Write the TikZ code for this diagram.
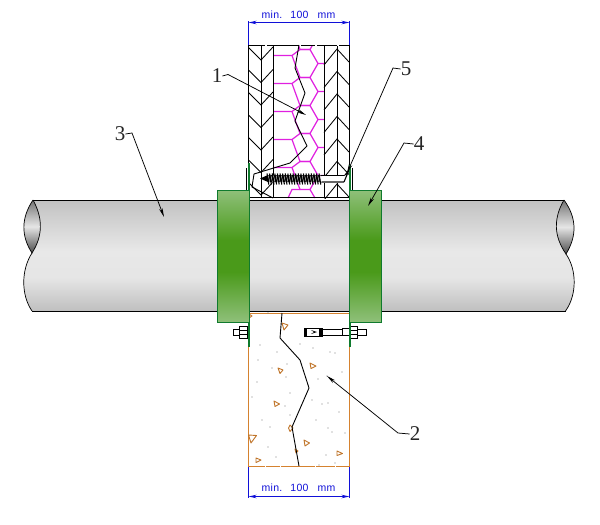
\documentclass[tikz,border=0pt]{standalone}
\usepackage{fontspec}
\setmainfont{Liberation Serif}
\newfontfamily\dimfont[LetterSpace=3]{Liberation Sans}
\usetikzlibrary{arrows.meta}
\definecolor{mag}{HTML}{E020E0}
\definecolor{conc}{HTML}{D5822F}
\definecolor{dimblue}{HTML}{1010D8}
\definecolor{gedge}{HTML}{0F7A2E}
\definecolor{clampL}{HTML}{8FC07A}
\definecolor{clampD}{HTML}{4A9A1A}
\pgfdeclareverticalshading{pipeshade}{100bp}{color(0bp)=(black!25);color(25bp)=(black!25);color(40bp)=(black!10);color(52bp)=(black!9);color(75bp)=(black!24);color(100bp)=(black!24)}
\pgfdeclareverticalshading{clampshade}{100bp}{color(0bp)=(clampL);color(25bp)=(clampL);color(44bp)=(clampD);color(56bp)=(clampD);color(75bp)=(clampL);color(100bp)=(clampL)}
\pgfdeclareverticalshading{lensshade}{100bp}{color(0bp)=(black!70);color(25bp)=(black!70);color(50bp)=(black!10);color(75bp)=(black!55);color(100bp)=(black!55)}
\tikzset{
  pipeline/.style={draw=black,line width=1pt},
  layerline/.style={draw=black,line width=0.85pt},
  hexline/.style={draw=mag,line width=1.2pt},
  crack/.style={draw=black,line width=0.9pt,line join=round},
  concline/.style={draw=conc,line width=1pt},
  gravel/.style={draw=conc!90!black,line width=0.9pt,line join=round},
  speck/.style={fill=black!50,draw=none},
  flange/.style={draw=gedge,line width=2pt},
  clampbox/.style={draw=gedge,line width=1pt,shading=clampshade},
  hardware/.style={draw=black,line width=1pt,fill=white},
  dimline/.style={draw=dimblue,line width=0.9pt},
  dimarrow/.style={dimline,{Stealth[length=8pt,width=3.5pt]}-{Stealth[length=8pt,width=3.5pt]}},
  dimtext/.style={text=dimblue,font=\dimfont\fontsize{10.5}{10.5}\selectfont,inner sep=0pt},
  callout/.style={font=\fontsize{21}{21}\selectfont,inner sep=0pt,text=black!85},
  leader/.style={draw=black,line width=0.75pt,-{Stealth[length=9pt,width=3.5pt]}}
}
\begin{document}
\begin{tikzpicture}[x=1pt,y=-1pt]
\useasboundingbox (0,0) rectangle (600,525);
% pipe
\path[shading=pipeshade] (33,200) -- (564,200) .. controls (553.5,218) and (553.5,236) .. (566,254)
  .. controls (577,270) and (577,295) .. (565.5,311) -- (32,311)
  .. controls (21,295) and (21,270) .. (32,253) .. controls (43,236) and (43,218) .. (33,200) -- cycle;
\path[shading=lensshade] (33,200) .. controls (21,218) and (21,236) .. (32,253) .. controls (43,236) and (43,218) .. (33,200) -- cycle;
\path[shading=lensshade] (564,200) .. controls (553.5,218) and (553.5,236) .. (566,254) .. controls (577,236) and (577,218) .. (564,200) -- cycle;
\draw[pipeline] (33,200.5) -- (564,200.5);
\draw[pipeline] (32,311.5) -- (565.5,311.5);
\draw[pipeline,line width=0.7pt] (33,200) .. controls (21,218) and (21,236) .. (32,253) .. controls (43,236) and (43,218) .. (33,200);
\draw[pipeline,line width=0.7pt] (32,253) .. controls (21,270) and (21,295) .. (32,311);
\draw[pipeline,line width=0.7pt] (564,200) .. controls (553.5,218) and (553.5,236) .. (566,254) .. controls (577,236) and (577,218) .. (564,200);
\draw[pipeline,line width=0.7pt] (566,254) .. controls (577,270) and (577,295) .. (565.5,311);
% upper wall
\fill[white] (248,45) rectangle (349,198);
\begin{scope}
\clip (273,45) rectangle (324,198);
\foreach \k in {-1,...,4}{
  \pgfmathsetmacro{\yt}{49.5+28*\k}
  \pgfmathsetmacro{\yb}{\yt+28}
  \pgfmathsetmacro{\yl}{\yt+6}
  \pgfmathsetmacro{\yr}{\yt+14}
  \draw[hexline] (273,\yl) -- (292,\yl) -- (300,\yt) -- (310,\yt) -- (318,\yr) -- (324,\yr);
  \draw[hexline] (292,\yl) -- (300,\yb) -- (310,\yb) -- (318,\yr);
}
\draw[hexline] (300,189.5) -- (292,189.5) -- (288,198);
\draw[hexline] (310,189.5) -- (315,198);
\end{scope}
\begin{scope}
\clip (248,45) rectangle (349,198);
\foreach \k in {0,...,6}{
  \pgfmathsetmacro{\yv}{60+22.5*\k}
  \pgfmathsetmacro{\ye}{\yv-13}
  \draw[layerline] (248,\ye) -- (261,\yv) -- (273,\ye);
  \pgfmathsetmacro{\ya}{49+22.5*\k}
  \pgfmathsetmacro{\yf}{\ya+13}
  \pgfmathsetmacro{\yg}{\ya+16}
  \draw[layerline] (324,\yg) -- (337,\ya) -- (349,\yf);
}
\end{scope}
\foreach \xx in {248.5,261,273.5,324.5,337.5,349.5}{\draw[layerline] (\xx,45) -- (\xx,198);}
\draw[layerline] (248,45.5) -- (349.5,45.5);
\foreach \xx in {265,299,315,337}{\draw[white,line width=1.2pt] (\xx,45.5) -- (\xx+1.5,45.5);}
\draw[layerline] (248,197.5) -- (349.5,197.5);
\draw[crack] (299,45) -- (295,68) -- (305,93) -- (295,121) -- (307,146) -- (290,163) -- (254,174) -- (252,187) -- (273,198);
% screw
\fill[white] (322,175) rectangle (345,182);
\draw[black,line width=0.9pt] (320,175) -- (345,175);
\draw[black!60,line width=1.5pt] (320,182) -- (344,182);
\draw[black,line width=1.1pt,fill=white] (344,182) -- (349,170) -- (345,175);
\fill[black] (260,178.5) -- (268,175) -- (320,175) -- (320,182) -- (268,182) -- cycle;
\foreach \i in {0,...,20}{
  \pgfmathsetmacro{\xa}{267+2.6*\i}
  \pgfmathsetmacro{\xb}{\xa+1.8}
  \draw[black,line width=1.1pt] (\xa,173.5) -- (\xb,184.5);
  \draw[white,line width=0.35pt] (\xa+1.3,175.5) -- (\xb+1.1,182.5);
}
% concrete
\fill[white] (248,313) rectangle (349,466);
\draw[concline] (248.5,313) -- (248.5,466);
\draw[concline] (349.5,313) -- (349.5,466);
\draw[concline] (248,313.5) -- (349.5,313.5);
\draw[concline] (248,466.5) -- (349.5,466.5);
\foreach \xx in {265,280,315,335}{\draw[white,line width=1.3pt] (\xx,466.5) -- (\xx+1.2,466.5);}
\draw[gravel] (282,323) -- (288,325) -- (284,330) -- cycle;
\draw[gravel] (310,363) -- (316,366) -- (311,368.5) -- cycle;
\draw[gravel] (278,368) -- (283,370) -- (280,373.5) -- cycle;
\draw[gravel] (274,401) -- (279.5,404) -- (275,406.5) -- cycle;
\draw[gravel] (290,425) -- (293,428) -- (290,431.5) -- (288.5,428) -- cycle;
\draw[gravel] (248.5,435) -- (256.5,435.5) -- (251,443) -- cycle;
\draw[gravel] (304,440) -- (309.5,443) -- (305,446) -- cycle;
\draw[gravel] (256,458) -- (261,460) -- (256,462.5) -- cycle;
\draw[gravel] (337,451) -- (342.5,453.5) -- (337,455.5) -- cycle;
\draw[gravel] (295,449) -- (298,451) -- (296,453) -- cycle;
\draw[gravel] (249,314) -- (252,316) -- (249,318) -- cycle;
\foreach \sx/\sy in {260/345,277/352,287/364,327/376,257/382,286/377,313/348,330/352,335/353,342/372,290/393,312/400,322/404,328/403,285/406,290/415,270/427,328/428,252/397,345/433,326/455,268/447,268/313,332/432,335/463,300/344,318/379,258/360,272/368,316/420,339/412,262/420,276/457,319/465}{\fill[speck] (\sx,\sy) circle (0.65pt);}
\draw[crack] (282,313) -- (280,338) -- (300,360) -- (309,388) -- (292,427) -- (299,466);
% anchor and nuts
\draw[hardware] (233,329) rectangle (239,335);
\draw[hardware] (239,326) rectangle (247,338);
\draw[black,line width=0.7pt] (239,330) -- (247,330);
\draw[black,line width=0.7pt] (239,334) -- (247,334);
\draw[hardware] (357,329) rectangle (366,335);
\draw[hardware] (350,326) rectangle (357,338);
\draw[black,line width=0.7pt] (350,330) -- (357,330);
\draw[black,line width=0.7pt] (350,334) -- (357,334);
\draw[hardware] (322,329.5) rectangle (342,335);
\draw[hardware] (342,328.5) rectangle (349,335);
\draw[hardware] (305,328.5) rectangle (322,336);
\fill[black] (304,328) rectangle (306.5,336.5);
\fill[black] (311,330) -- (317,332) -- (311,334) -- (314,332) -- cycle;
\fill[black] (319,328.5) rectangle (322,336);
% clamps
\path[clampbox] (217,190) rectangle (249,322);
\path[clampbox] (349,190) rectangle (381,322);
\draw[flange] (248.5,163) -- (248.5,190);
\draw[flange] (349.5,165) -- (349.5,190);
\draw[flange] (248.5,322) -- (248.5,347);
\draw[flange] (349.5,322) -- (349.5,347);
\draw[black,line width=0.8pt] (246,168) -- (246,190);
\draw[black,line width=0.8pt] (352.5,168) -- (352.5,190);
% dimensions
\coordinate (dt1) at (248.5,22.5);
\coordinate (dt2) at (349.5,22.5);
\coordinate (db1) at (248.5,496.5);
\coordinate (db2) at (349.5,496.5);
\draw[dimline] (248.5,21) -- (248.5,45);
\draw[dimline] (349.5,21) -- (349.5,45);
\draw[dimline] (248.5,466.5) -- (248.5,498);
\draw[dimline] (349.5,466.5) -- (349.5,498);
\draw[dimarrow] (dt1) -- (dt2);
\draw[dimarrow] (db1) -- (db2);
\node[dimtext] (dimtop) at (298.5,14.5) {min.\hspace{8pt}100\hspace{9pt}mm};
\node[dimtext] (dimbot) at (298.5,488) {min.\hspace{8pt}100\hspace{9pt}mm};
% callouts
\node[callout] (lab1) at (217,76) {1};
\node[callout] (lab2) at (415,434) {2};
\node[callout] (lab3) at (120,134) {3};
\node[callout] (lab4) at (419,144) {4};
\node[callout] (lab5) at (406,69) {5};
\coordinate (tip1) at (306,115);
\coordinate (tip2) at (327,376);
\coordinate (tip3) at (164,217);
\coordinate (tip4) at (368,206);
\coordinate (tip5) at (347,173);
\coordinate (bend1) at (228,74.5);
\coordinate (bend2) at (398,433);
\coordinate (bend3) at (132,133);
\coordinate (bend4) at (404,143);
\coordinate (bend5) at (393,68);
\draw[leader] (lab1.east) -- (bend1) -- (tip1);
\draw[leader] (lab2.west) -- (bend2) -- (tip2);
\draw[leader] (lab3.east) -- (bend3) -- (tip3);
\draw[leader] (lab4.west) -- (bend4) -- (tip4);
\draw[leader] (lab5.west) -- (bend5) -- (tip5);
\end{tikzpicture}
\end{document}
